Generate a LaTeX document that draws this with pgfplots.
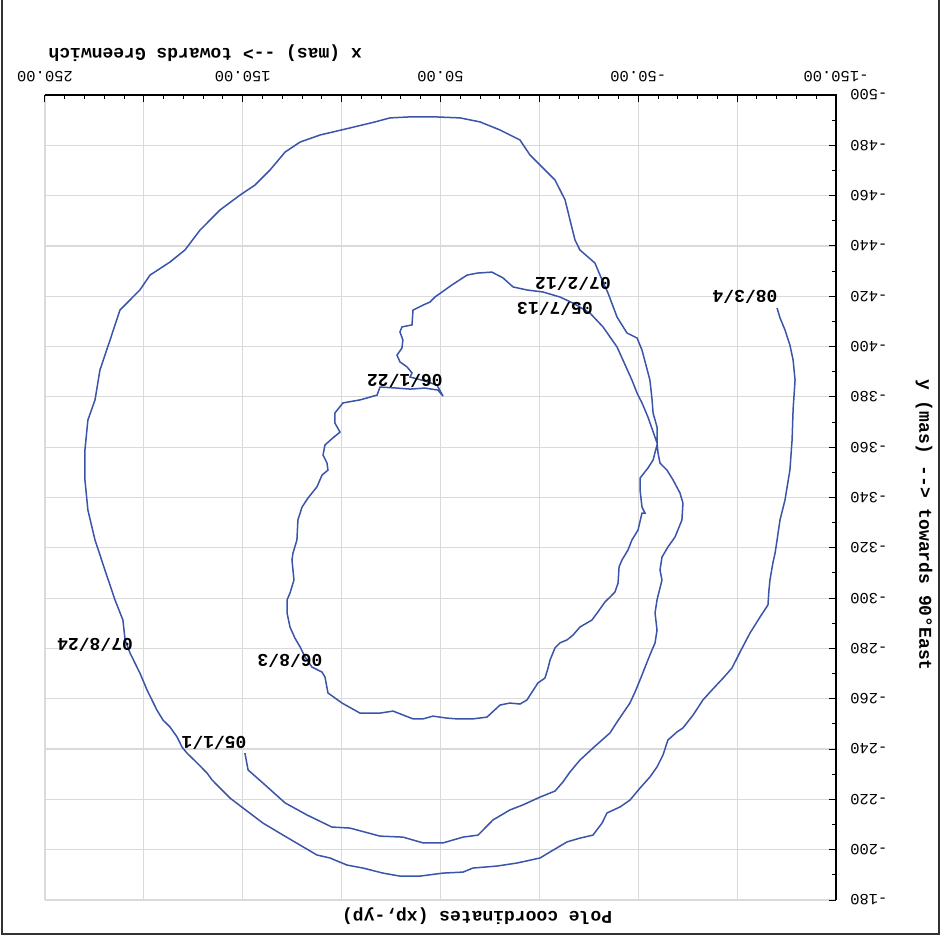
\documentclass[border=0pt]{standalone}
\usepackage{fontspec}
\usepackage{pgfplots}
\pgfplotsset{compat=1.18}
\newfontfamily\monof{Liberation Mono}
\newcommand{\lab}{\fontsize{18bp}{20bp}\selectfont\monof\bfseries}
\newcommand{\tck}{\fontsize{15.5bp}{17bp}\selectfont\monof}
\definecolor{curve}{RGB}{58,84,170}
\definecolor{gridc}{RGB}{218,218,218}
\definecolor{framec}{RGB}{50,50,50}
\begin{document}
\begin{tikzpicture}
\begin{axis}[
  scale only axis, width=791bp, height=805bp,
  xmin=-150, xmax=250, ymin=-500, ymax=-180,
  x dir=reverse, y dir=reverse,
  axis line style={draw=none},
  xtick={-150,-100,...,250},
  xticklabels={-150.00,,-50.00,,50.00,,150.00,,250.00},
  ytick={-500,-480,...,-180},
  yticklabels={-500,-480,-460,-440,-420,-400,-380,-360,-340,-320,-300,-280,-260,-240,-220,-200,-180},
  minor x tick num=4, minor y tick num=1,
  xtick pos=right, ytick pos=right,
  xticklabel pos=right, yticklabel pos=right,
  tick align=inside,
  major tick length=7bp, minor tick length=4bp,
  tick style={black, line width=1bp},
  grid=major, major grid style={gridc, line width=1.2bp},
  tick label style={font=\tck, inner sep=0pt},
  xticklabel style={rotate=180, anchor=north},
  yticklabel style={rotate=180, anchor=east},
  xticklabel shift=13bp, yticklabel shift=14bp,
  clip=false,
]
\addplot[curve, line width=1.5bp] coordinates {
(148.9,-238.4) (147.3,-231.7) (139.8,-226.5) (128.6,-218.6) (117.5,-213.8) (104.9,-209.0)
(95.8,-208.6) (80.6,-205.4) (69.0,-205.0) (58.8,-202.7) (48.7,-202.7) (38.6,-205.0)
(31.0,-205.8) (23.5,-211.8) (14.9,-215.8) (8.3,-217.8) (-0.3,-220.9) (-7.9,-223.3)
(-11.9,-226.9) (-15.5,-230.9) (-20.5,-235.6) (-27.1,-240.4) (-35.7,-246.4) (-39.3,-250.8)
(-45.8,-258.3) (-48.4,-262.7) (-50.9,-267.5) (-55.9,-277.4) (-58.5,-282.2) (-59.5,-287.3)
(-58.5,-294.1) (-59.5,-299.3) (-61.0,-304.0) (-62.0,-307.2) (-61.0,-311.2) (-62.0,-316.3)
(-65.0,-320.3) (-68.6,-324.3) (-72.1,-331.1) (-72.6,-337.8) (-71.1,-341.8) (-67.6,-347.0)
(-64.5,-350.9) (-61.0,-353.7) (-60.0,-357.7) (-59.5,-361.7) (-54.9,-372.0) (-51.9,-377.6)
(-49.4,-381.5) (-46.8,-386.7) (-39.3,-399.8) (-32.2,-407.8) (-25.6,-413.3) (-17.0,-417.3)
(-10.4,-419.7) (-1.8,-421.7) (6.3,-422.5) (13.3,-423.7) (18.4,-427.3) (24.0,-429.6)
(31.5,-429.2) (36.6,-428.4) (44.2,-424.5) (49.2,-421.7) (52.8,-419.7) (55.3,-417.7)
(58.8,-416.5) (63.9,-414.5) (64.4,-408.6) (69.5,-407.8) (70.5,-405.8) (69.0,-402.6)
(69.5,-399.4) (72.0,-396.6) (70.5,-393.9) (66.9,-391.9) (64.4,-389.5) (65.4,-387.9)
(57.8,-386.3) (51.8,-384.7) (48.7,-380.3) (51.3,-382.7) (57.8,-383.5) (65.4,-383.1)
(72.0,-383.5) (80.6,-383.9) (82.1,-380.7) (90.7,-378.8) (99.3,-377.6) (103.4,-373.6)
(103.4,-369.6) (100.8,-366.0) (104.4,-363.7) (108.4,-360.9) (109.4,-356.9) (107.4,-353.7)
(106.9,-350.9) (109.9,-348.9) (112.5,-344.2) (117.0,-339.8) (120.0,-336.2) (122.1,-331.1)
(122.6,-323.1) (124.6,-317.9) (125.1,-315.2) (124.6,-311.2) (124.1,-307.2) (126.1,-302.0)
(127.6,-299.3) (127.6,-294.1) (126.1,-288.5) (123.6,-284.1) (121.0,-280.6) (118.5,-276.6)
(115.0,-272.6) (109.9,-270.6) (108.4,-268.6) (106.9,-262.3) (99.8,-258.3) (90.7,-254.3)
(80.6,-254.3) (74.0,-255.1) (63.9,-252.0) (58.8,-252.0) (53.8,-253.1) (46.7,-252.3)
(41.7,-252.0) (33.6,-252.0) (26.5,-252.7) (19.9,-257.5) (14.9,-258.3) (9.8,-257.9)
(6.3,-259.5) (0.7,-266.3) (-2.8,-268.2) (-4.4,-272.2) (-5.4,-275.4) (-7.9,-280.2)
(-10.4,-282.2) (-14.0,-283.4) (-17.0,-285.3) (-20.5,-288.5) (-26.6,-291.3) (-29.6,-294.5)
(-33.2,-298.5) (-35.7,-300.4) (-38.2,-302.4) (-39.8,-306.0) (-40.3,-312.4) (-41.8,-315.2)
(-44.8,-319.1) (-46.8,-323.1) (-49.9,-327.1) (-51.9,-333.8) (-53.4,-333.8) (-51.9,-336.2)
(-50.9,-343.0) (-50.9,-347.7) (-54.9,-351.7) (-57.5,-354.9) (-59.5,-360.9) (-59.5,-368.0)
(-57.5,-373.6) (-57.0,-378.8) (-55.9,-386.7) (-51.9,-398.6) (-49.4,-403.4) (-44.3,-405.4)
(-39.3,-411.7) (-34.7,-421.3) (-31.7,-426.5) (-28.1,-433.2) (-20.5,-438.4) (-18.0,-442.4)
(-15.5,-450.3) (-13.0,-458.3) (-7.9,-466.2) (-0.3,-472.2) (4.7,-476.1) (9.8,-482.1)
(19.9,-486.1) (30.0,-489.3) (40.1,-490.9) (52.8,-491.3) (65.4,-491.3) (75.5,-490.9)
(83.1,-489.3) (95.8,-486.9) (110.9,-484.1) (121.0,-481.3) (128.6,-477.3) (136.2,-470.2)
(143.8,-464.2) (151.4,-460.2) (161.5,-454.3) (171.6,-446.3) (179.2,-438.4) (186.8,-433.6)
(196.9,-428.4) (202.0,-422.5) (212.1,-414.5) (217.1,-402.6) (222.2,-390.7) (224.7,-378.8)
(228.3,-370.8) (229.8,-358.9) (229.8,-347.0) (228.3,-335.0) (224.7,-323.1) (219.7,-311.2)
(214.6,-299.3) (210.6,-291.3) (209.5,-283.4) (207.0,-278.2) (202.0,-270.2) (198.4,-263.5)
(195.9,-259.5) (193.4,-255.5) (190.3,-251.5) (186.8,-248.8) (183.2,-244.8) (180.7,-240.8)
(178.2,-238.4) (173.1,-234.5) (168.1,-230.5) (165.5,-227.7) (156.4,-220.5) (149.9,-216.6)
(139.8,-210.6) (129.6,-205.8) (112.5,-197.9) (105.9,-196.7) (97.3,-193.9) (89.2,-192.7)
(79.1,-190.7) (70.5,-189.5) (60.4,-189.5) (48.7,-190.7) (38.6,-191.1) (33.6,-192.7)
(21.4,-193.5) (11.3,-194.7) (-0.3,-196.7) (-5.4,-199.1) (-14.0,-203.1) (-20.5,-204.6)
(-27.1,-205.8) (-31.7,-210.6) (-34.2,-214.6) (-40.8,-217.0) (-45.8,-219.7) (-50.9,-224.5)
(-55.9,-228.9) (-59.5,-232.9) (-62.5,-237.6) (-65.0,-243.6) (-69.6,-246.8) (-72.6,-248.4)
(-77.7,-253.5) (-82.7,-259.5) (-87.3,-263.5) (-92.9,-268.2) (-97.4,-272.2) (-101.5,-278.6)
(-106.5,-286.1) (-111.6,-292.5) (-115.6,-297.3) (-116.1,-303.2) (-116.6,-307.2) (-118.1,-314.0)
(-119.2,-317.9) (-120.2,-323.1) (-121.7,-331.1) (-124.2,-339.0) (-126.7,-350.9) (-127.8,-362.9)
(-128.3,-374.8) (-129.3,-386.7) (-128.3,-394.7) (-126.7,-400.6) (-124.2,-406.6) (-121.7,-411.4)
(-120.2,-415.3)
};
\draw[black, line width=1.3bp] (axis cs:250,-500) -- (axis cs:-150,-500) -- (axis cs:-150,-180);
\node[rotate=180, font=\lab] at (axis cs:164.5,-242.4) {05/1/1};
\node[rotate=180, font=\lab] at (axis cs:-7.9,-414.9) {05/7/13};
\node[rotate=180, font=\lab] at (axis cs:68.0,-386.3) {06/1/22};
\node[rotate=180, font=\lab] at (axis cs:126.1,-275.0) {06/8/3};
\node[rotate=180, font=\lab] at (axis cs:-17.0,-424.9) {07/2/12};
\node[rotate=180, font=\lab] at (axis cs:224.7,-281.4) {07/8/24};
\node[rotate=180, font=\lab] at (axis cs:-104.0,-419.7) {08/3/4};
\node[rotate=180, anchor=east, font=\lab] at ([yshift=42bp]axis cs:250,-500) {x (mas) --> towards Greenwich};
\node[rotate=180, font=\lab] at ([yshift=-16bp]axis cs:31.5,-180) {Pole coordinates (xp,-yp)};
\node[rotate=-90, font=\lab] at ([xshift=88bp]axis cs:-150,-329.1) {y (mas) --> towards 90°East};
\coordinate (bl) at (axis cs:250,-180);
\end{axis}
\draw[framec, line width=2bp] ([shift={(-43bp,900bp)}]bl) -- ([shift={(-43bp,-34bp)}]bl) -- ([shift={(894bp,-34bp)}]bl) -- ([shift={(894bp,900bp)}]bl);
\pgfresetboundingbox
\path[use as bounding box] ([shift={(-45bp,-38bp)}]bl) rectangle ([shift={(899bp,900bp)}]bl);
\end{tikzpicture}
\end{document}
